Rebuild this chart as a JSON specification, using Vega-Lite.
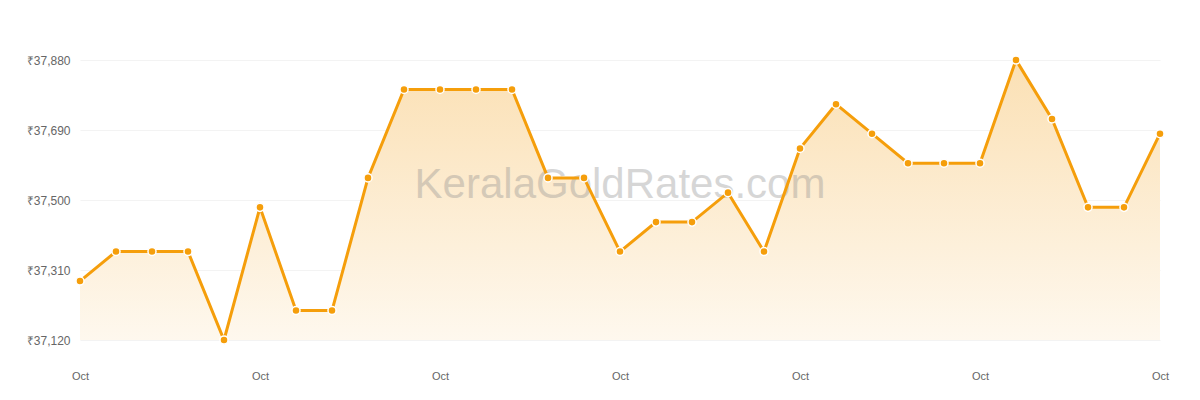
{
  "$schema": "https://vega.github.io/schema/vega-lite/v6.json",
  "width": 1080,
  "height": 280,
  "autosize": "none",
  "padding": {"left": 80, "top": 60, "right": 40, "bottom": 60},
  "background": "white",
  "config": {
    "view": {"stroke": null},
    "font": "Liberation Sans"
  },
  "data": {
    "values": [
      {"day": 1, "price": 37280},
      {"day": 2, "price": 37360},
      {"day": 3, "price": 37360},
      {"day": 4, "price": 37360},
      {"day": 5, "price": 37120},
      {"day": 6, "price": 37480},
      {"day": 7, "price": 37200},
      {"day": 8, "price": 37200},
      {"day": 9, "price": 37560},
      {"day": 10, "price": 37800},
      {"day": 11, "price": 37800},
      {"day": 12, "price": 37800},
      {"day": 13, "price": 37800},
      {"day": 14, "price": 37560},
      {"day": 15, "price": 37560},
      {"day": 16, "price": 37360},
      {"day": 17, "price": 37440},
      {"day": 18, "price": 37440},
      {"day": 19, "price": 37520},
      {"day": 20, "price": 37360},
      {"day": 21, "price": 37640},
      {"day": 22, "price": 37760},
      {"day": 23, "price": 37680},
      {"day": 24, "price": 37600},
      {"day": 25, "price": 37600},
      {"day": 26, "price": 37600},
      {"day": 27, "price": 37880},
      {"day": 28, "price": 37720},
      {"day": 29, "price": 37480},
      {"day": 30, "price": 37480},
      {"day": 31, "price": 37680}
    ]
  },
  "encoding": {
    "x": {
      "field": "day",
      "type": "quantitative",
      "scale": {"domain": [1, 31], "nice": false, "zero": false},
      "axis": {
        "values": [1, 6, 11, 16, 21, 26, 31],
        "labelExpr": "'Oct'",
        "labelFlush": false,
        "labelAlign": "center",
        "title": null,
        "grid": false,
        "domain": false,
        "ticks": false,
        "labelPadding": 30,
        "labelFontSize": 11,
        "labelColor": "#666666"
      }
    },
    "y": {
      "field": "price",
      "type": "quantitative",
      "scale": {"domain": [37120, 37880], "nice": false, "zero": false},
      "axis": {
        "values": [37120, 37310, 37500, 37690, 37880],
        "labelExpr": "'₹' + format(datum.value, ',')",
        "title": null,
        "domain": false,
        "ticks": false,
        "labelPadding": 10,
        "labelFontSize": 12,
        "labelColor": "#666666",
        "gridColor": "#f3f3f3",
        "gridWidth": 1
      }
    }
  },
  "layer": [
    {
      "mark": {
        "type": "area",
        "line": false,
        "fill": {
          "gradient": "linear",
          "x1": 0, "y1": 0, "x2": 0, "y2": 1,
          "stops": [
            {"offset": 0, "color": "#fbe0b4"},
            {"offset": 1, "color": "#fef8ee"}
          ]
        }
      },
      "encoding": {
        "y2": {"datum": 37120}
      }
    },
    {
      "data": {"values": [{"label": "KeralaGoldRates.com", "day": 16, "price": 37540}]},
      "mark": {
        "type": "text",
        "fontSize": 42,
        "color": "#8c8c8c",
        "opacity": 0.35,
        "align": "center",
        "baseline": "middle"
      },
      "encoding": {
        "text": {"field": "label", "type": "nominal"}
      }
    },
    {
      "mark": {"type": "line", "color": "#f59e0b", "strokeWidth": 3}
    },
    {
      "mark": {
        "type": "point",
        "filled": true,
        "fill": "#f59e0b",
        "stroke": "white",
        "strokeWidth": 1.5,
        "size": 65,
        "opacity": 1
      }
    }
  ]
}
